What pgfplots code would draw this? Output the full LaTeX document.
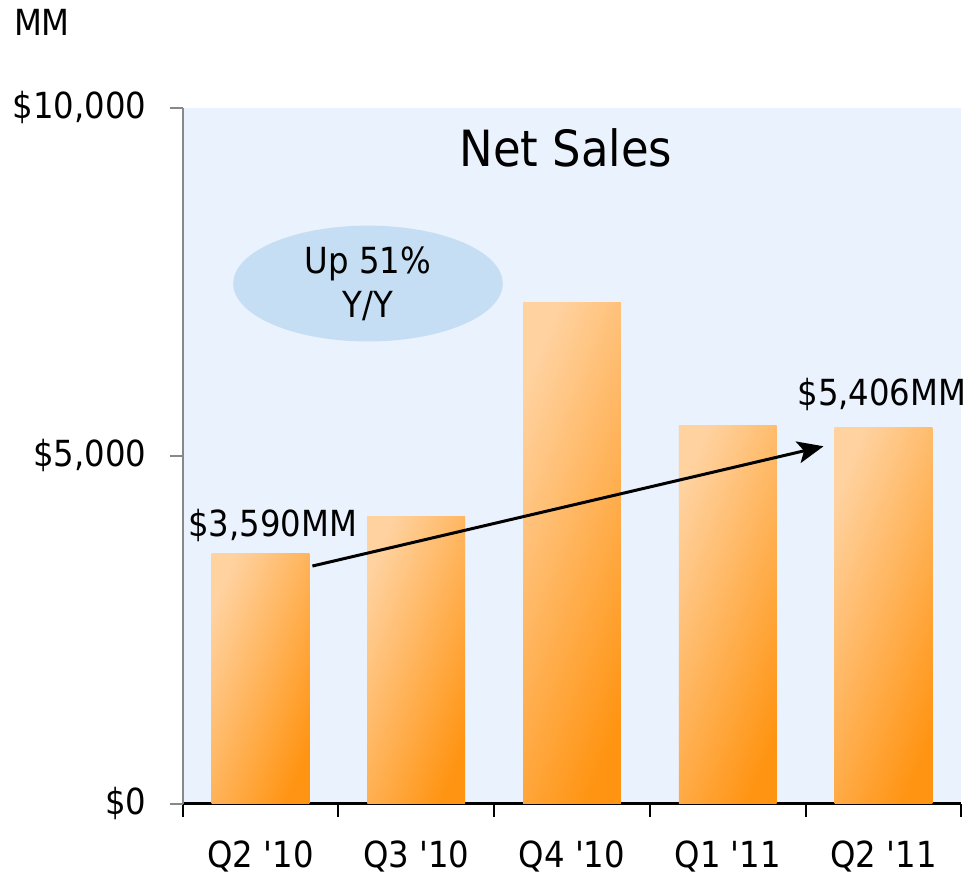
\documentclass[border=0pt]{standalone}
\usepackage{fontspec}
\setmainfont{DejaVu Sans Condensed}
\usepackage{pgfplots}
\usepackage{xcolor}
\usetikzlibrary{arrows.meta,shapes.geometric}
\pgfplotsset{compat=1.18}

\definecolor{bgblue}{HTML}{EAF2FD}
\definecolor{ellblue}{HTML}{C6DEF3}
\definecolor{orlight}{HTML}{FFD2A0}
\definecolor{ordark}{HTML}{FF9412}
\definecolor{axgray}{HTML}{888888}

\pgfplotsset{
  salesbar/.style={ybar, bar shift=0pt, draw=none,
    left color=orlight, right color=ordark, shading angle=68},
}

\begin{document}
\begin{tikzpicture}
  \begin{axis}[
      scale only axis,
      width=390pt,
      height=348.5pt,
      xmin=-0.5, xmax=4.5,
      ymin=0, ymax=10000,
      axis lines=left,
      axis background/.style={fill=bgblue},
      x axis line style={black, line width=1.5pt, -},
      y axis line style={axgray, line width=1pt, -},
      xtick={-0.5,0.5,1.5,2.5,3.5,4.5},
      xticklabels={},
      x tick style={black, line width=1pt},
      extra x ticks={0,1,2,3,4},
      extra x tick labels={Q2 \textquotesingle10,Q3 \textquotesingle10,Q4 \textquotesingle10,Q1 \textquotesingle11,Q2 \textquotesingle11},
      extra x tick style={major tick length=0pt,
        xticklabel style={anchor=base, inner sep=0pt, yshift=-32pt}},
      ytick={0,5000,10000},
      yticklabels={\$0,\$5{,}000,\$10{,}000},
      scaled y ticks=false,
      y tick style={axgray, line width=1pt},
      tick align=outside,
      major tick length=6.5pt,
      tick label style={font=\fontsize{18}{20}\selectfont},
      yticklabel style={inner sep=0pt, xshift=-11.5pt},
      clip=false,
      bar width=49pt,
    ]
    \addplot[salesbar] coordinates {(0,3590)};
    \addplot[salesbar] coordinates {(1,4120)};
    \addplot[salesbar] coordinates {(2,7200)};
    \addplot[salesbar] coordinates {(3,5440)};
    \addplot[salesbar] coordinates {(4,5406)};

    % fixed canvas matching the reference proportions
    \path (rel axis cs:-0.2346,-0.106) rectangle (rel axis cs:1.0064,1.155);

    \node[font=\fontsize{18}{20}\selectfont, anchor=west, inner sep=0pt] at (rel axis cs:-0.217,1.123) {MM};
    \node[font=\fontsize{25}{28}\selectfont] at (axis cs:1.96,9426) {Net Sales};
    \node[ellipse, fill=ellblue, minimum width=135pt, minimum height=58pt, inner sep=0pt]
      at (axis cs:0.69,7475) {};
    \node[font=\fontsize{18}{22}\selectfont, align=center] at (axis cs:0.69,7475) {Up 51\%\\Y/Y};
    \node[font=\fontsize{18}{20}\selectfont, inner sep=0pt] at (axis cs:0.077,4000) {\$3,590MM};
    \node[font=\fontsize{18}{20}\selectfont, inner sep=0pt] at (axis cs:3.99,5880) {\$5,406MM};
    \draw[-{Stealth[length=13pt,width=11pt,inset=3pt]}, line width=1.5pt]
      (axis cs:0.333,3415) -- (axis cs:3.615,5136);
  \end{axis}
\end{tikzpicture}
\end{document}
